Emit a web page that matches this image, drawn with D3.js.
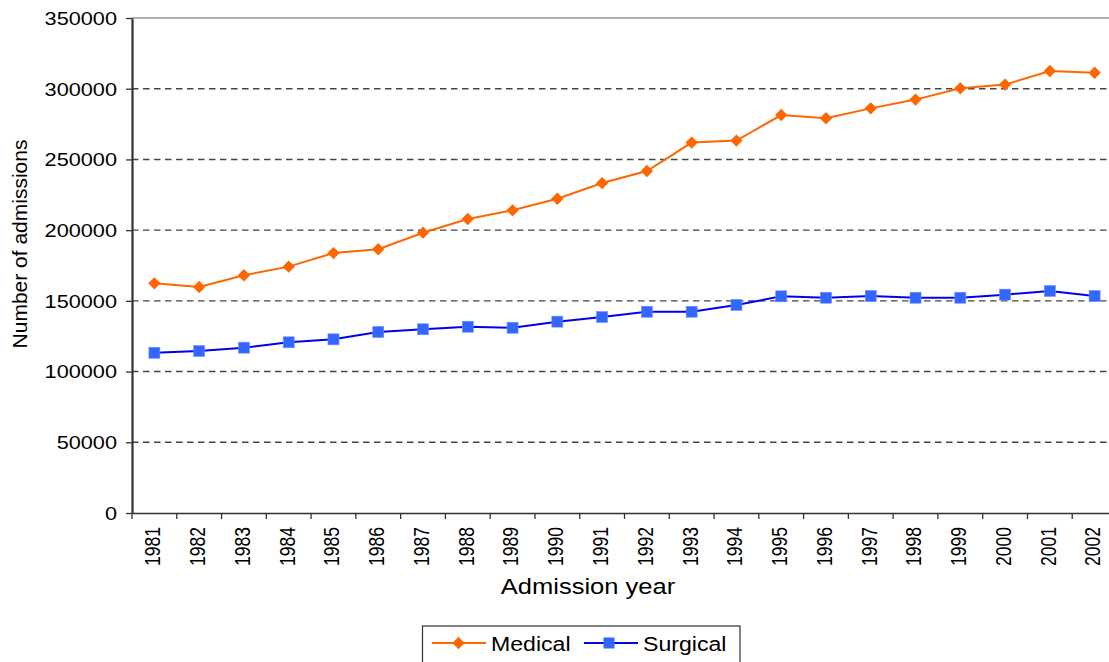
<!DOCTYPE html>
<html>
<head>
<meta charset="utf-8">
<script src="https://cdn.jsdelivr.net/npm/d3@7"></script>
<style>
html,body{margin:0;padding:0;background:#fff;overflow:hidden;}
text{font-family:"Liberation Sans",Arial,sans-serif;fill:#000;}
</style>
</head>
<body>
<svg id="chart" width="1109" height="662"></svg>
<script>
const years = ["1981","1982","1983","1984","1985","1986","1987","1988","1989","1990","1991","1992","1993","1994","1995","1996","1997","1998","1999","2000","2001","2002"];
const medical = [162400,159800,168100,174200,183800,186500,198200,207900,214000,222200,233300,241800,261900,263300,281400,279100,286100,292300,300300,302900,312500,311300];
const surgical = [113300,114500,116900,120700,122800,128000,129900,131700,131000,135300,138600,142300,142300,147100,153200,152200,153400,152200,152200,154400,157000,153400];
const yTicks = [0,50000,100000,150000,200000,250000,300000,350000];
const seriesNames = ["Medical","Surgical"];
const seriesColors = ["#ff6600","#0000ee"];
const markerColors = ["#ff6600","#3366ff"];

const svg = d3.select("#chart");
const L = 132, R = 1117, T = 18, B = 513;
const x = d3.scaleBand().domain(years).range([L, R]);
const y = d3.scaleLinear().domain([0, 350000]).range([B, T]);

// gridlines
svg.append("g").selectAll("line").data(yTicks.filter(d => d > 0 && d < 350000)).join("line")
  .attr("x1", L).attr("x2", R).attr("y1", d => y(d)).attr("y2", d => y(d))
  .attr("stroke", "#444").attr("stroke-width", 1.4).attr("stroke-dasharray", "6.5,4.5");
// top line
svg.append("line").attr("x1", L).attr("x2", R).attr("y1", y(350000)).attr("y2", y(350000))
  .attr("stroke", "#999").attr("stroke-width", 1.5);

// y axis
const yAxis = d3.axisLeft(y).tickValues(yTicks).tickSize(6).tickSizeOuter(0).tickFormat(d3.format("d"));
const gy = svg.append("g").attr("transform", `translate(${L},0)`).call(yAxis);
gy.select(".domain").attr("stroke", "#333").attr("stroke-width", 2.2);
gy.selectAll(".tick line").attr("stroke", "#333").attr("stroke-width", 1.3);
gy.selectAll(".tick text").remove();
gy.selectAll(".tick").append("text")
  .attr("transform", "translate(-15,0) scale(1.24,1)")
  .attr("text-anchor", "end").attr("dy", "0.36em")
  .style("font-size", "17.5px").text(d => d3.format("d")(d));

// x axis
const xAxis = d3.axisBottom(x).tickSize(0).tickSizeOuter(0);
const gx = svg.append("g").attr("transform", `translate(0,${B})`).call(xAxis);
gx.select(".domain").attr("stroke", "#333").attr("stroke-width", 1.6);
gx.selectAll(".tick text").remove();
gx.selectAll(".tick").append("text")
  .attr("transform", "translate(-2,14) scale(1.25,1) rotate(-90)")
  .attr("text-anchor", "end").attr("dy", "0.36em")
  .style("font-size", "17.5px").text(d => d);
// x tick marks at category boundaries
svg.append("g").selectAll("line").data(years).join("line")
  .attr("x1", d => x(d)).attr("x2", d => x(d))
  .attr("y1", B).attr("y2", B + 6)
  .attr("stroke", "#333").attr("stroke-width", 1.3);

// axis titles
svg.append("text").attr("transform", "translate(588,594) scale(1.16,1)")
  .attr("text-anchor", "middle").style("font-size", "22px").text("Admission year");
svg.append("text").attr("transform", "translate(27,244) rotate(-90)")
  .attr("text-anchor", "middle").style("font-size", "21px").text("Number of admissions");

// lines
const cx = d => x(d) + x.bandwidth() / 2;
const line = d3.line().x(d => cx(d[0])).y(d => y(d[1]));
const medData = years.map((d, i) => [d, medical[i]]);
const surData = years.map((d, i) => [d, surgical[i]]);

svg.append("path").datum(surData).attr("d", line).attr("fill", "none")
  .attr("stroke", seriesColors[1]).attr("stroke-width", 2);
svg.append("path").datum(medData).attr("d", line).attr("fill", "none")
  .attr("stroke", seriesColors[0]).attr("stroke-width", 2);

const diamond = d3.symbol().type(d3.symbolSquare).size(76);
svg.append("g").selectAll("path").data(medData).join("path")
  .attr("d", diamond)
  .attr("transform", d => `translate(${cx(d[0])},${y(d[1])}) rotate(45)`)
  .attr("fill", markerColors[0]);
svg.append("g").selectAll("rect").data(surData).join("rect")
  .attr("x", d => cx(d[0]) - 5.5).attr("y", d => y(d[1]) - 5.5)
  .attr("width", 11).attr("height", 11)
  .attr("fill", markerColors[1]).attr("stroke", "#6f8fff").attr("stroke-width", 0.6);

// legend
const lg = svg.append("g");
lg.append("rect").attr("x", 422.5).attr("y", 626).attr("width", 317.5).attr("height", 60)
  .attr("fill", "none").attr("stroke", "#333").attr("stroke-width", 1.2);
const ly = 643;
lg.append("line").attr("x1", 432).attr("x2", 486).attr("y1", ly).attr("y2", ly)
  .attr("stroke", seriesColors[0]).attr("stroke-width", 2);
lg.append("path").attr("d", diamond).attr("transform", `translate(458.5,${ly}) rotate(45)`)
  .attr("fill", markerColors[0]);
lg.append("text").attr("transform", `translate(491,${ly + 7.5}) scale(1.1,1)`)
  .style("font-size", "21px").text(seriesNames[0]);
lg.append("line").attr("x1", 584).attr("x2", 638).attr("y1", ly).attr("y2", ly)
  .attr("stroke", seriesColors[1]).attr("stroke-width", 2);
lg.append("rect").attr("x", 609 - 5.5).attr("y", ly - 5.5).attr("width", 11).attr("height", 11)
  .attr("fill", markerColors[1]);
lg.append("text").attr("transform", `translate(643,${ly + 7.5}) scale(1.1,1)`)
  .style("font-size", "21px").text(seriesNames[1]);
</script>
</body>
</html>
